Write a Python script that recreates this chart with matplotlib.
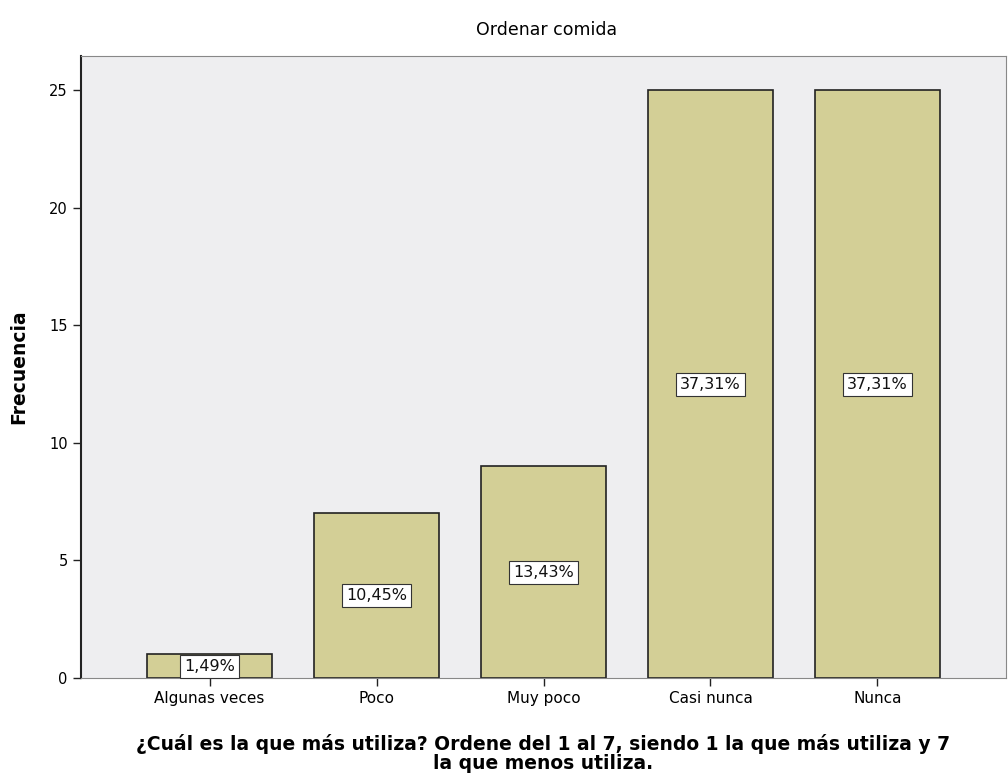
import matplotlib.pyplot as plt

categorias = ['Algunas veces', 'Poco', 'Muy poco', 'Casi nunca', 'Nunca']
frecuencias = [1, 7, 9, 25, 25]
porcentajes = ['1,49%', '10,45%', '13,43%', '37,31%', '37,31%']
ticks_y = [0, 5, 10, 15, 20, 25]

fig = plt.figure(figsize=(10.08, 7.76), dpi=100)
ax = fig.add_axes([81 / 1008, 98 / 776, 925 / 1008, 622 / 776])
ax.set_facecolor('#EEEEF0')

x = list(range(len(categorias)))
barras = ax.bar(x, frecuencias, width=0.75, color='#D3CF96', edgecolor='#222222', linewidth=1.2)

for b, p in zip(barras, porcentajes):
    ax.text(b.get_x() + b.get_width() / 2, b.get_height() / 2, p,
            ha='center', va='center', fontsize=11.5, color='#111111',
            bbox=dict(boxstyle='square,pad=0.25', facecolor='white', edgecolor='#333333', linewidth=0.8))

ax.set_xlim(-0.77, 4.77)
ax.set_ylim(0, 26.45)
ax.set_xticks(x)
ax.set_xticklabels(categorias, fontsize=11)
ax.set_yticks(ticks_y)
ax.set_yticklabels([str(t) for t in ticks_y], fontsize=10.5)
ax.tick_params(axis='both', length=6, color='#222222', width=1)

for s in ['top', 'right']:
    ax.spines[s].set_color('#888888')
ax.spines['left'].set_color('#222222')
ax.spines['bottom'].set_color('#888888')
ax.spines['left'].set_linewidth(1.5)

ax.set_ylabel('Frecuencia', fontsize=13.5, fontweight='bold', labelpad=15)
ax.set_xlabel('¿Cuál es la que más utiliza? Ordene del 1 al 7, siendo 1 la que más utiliza y 7\nla que menos utiliza.',
              fontsize=13.5, fontweight='bold', labelpad=20, linespacing=1.0)
fig.text(547 / 1008, 1 - 30 / 776, 'Ordenar comida', ha='center', va='center', fontsize=12.5)

fig.savefig('out.png', dpi=100)
